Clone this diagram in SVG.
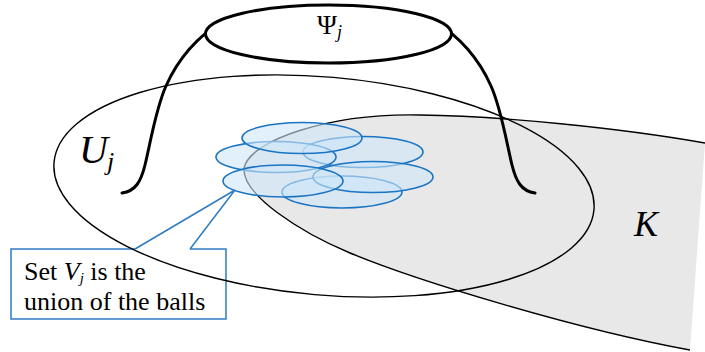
<svg xmlns="http://www.w3.org/2000/svg" width="705" height="352" viewBox="0 0 705 352">
<style>
.thin{fill:none;stroke:#000;stroke-width:1.4}
.thick{fill:none;stroke:#000;stroke-width:3;stroke-linecap:round}
.ball{fill:#cde6f8;fill-opacity:0.6;stroke:#1a74c4;stroke-width:1.6}
.call{fill:none;stroke:#2e7bc0;stroke-width:1.5}
.it{font-style:italic}
</style>
<rect width="705" height="352" fill="#fff"/>
<g font-family="Liberation Serif, Tinos, Noto Serif, DejaVu Serif, FreeSerif, serif" fill="#000">
<g id="K">
<path d="M705,143 C620,128 500,116 420,115 C330,113 250,140 244,168 C242,195 300,232 350,253 C420,282 580,330 690,350 Z" fill="#e8e8e8"/>
<path class="thin" d="M705,143 C620,128 500,116 420,115 C330,113 250,140 244,168 C242,195 300,232 350,253 C420,282 580,330 690,350"/>
<text class="it" x="634" y="236" font-size="36">K</text>
</g>
<g id="callout">
<path class="call" d="M135,249 L11,249 L11,319 L226,319 L226,249 L190,249" fill="#fff"/>
<text x="24" y="280" font-size="26">Set <tspan class="it">V</tspan><tspan class="it" font-size="15" dy="3">j</tspan><tspan dy="-3"> is the</tspan></text>
<text x="24" y="310" font-size="26">union of the balls</text>
</g>
<g id="U">
<ellipse class="thin" cx="324" cy="186" rx="271" ry="109" transform="rotate(5 324 186)"/>
<text class="it" x="79" y="163" font-size="40">U</text>
<text class="it" x="107" y="170" font-size="26">j</text>
</g>
<g id="Psi">
<path class="thick" d="M122,193 C136,191 141,181 145,165 C151,140 156,108 166,86 C177,61 195,38 224,20"/>
<path class="thick" d="M535,193 C521,191 516,181 512,165 C506,140 501,108 491,86 C480,61 462,38 433,20"/>
<ellipse cx="328.5" cy="34" rx="123" ry="29" fill="#fff" stroke="#000" stroke-width="3"/>
<text x="317" y="34" font-size="27">Ψ<tspan class="it" font-size="18" dy="4">j</tspan></text>
</g>
<g id="balls">
<ellipse class="ball" cx="342" cy="192" rx="60" ry="16"/>
<ellipse class="ball" cx="363" cy="152" rx="60" ry="15.5"/>
<ellipse class="ball" cx="373" cy="177" rx="60" ry="15.5"/>
<ellipse class="ball" cx="276" cy="157" rx="60" ry="15.5"/>
<ellipse class="ball" cx="283" cy="181" rx="60" ry="16"/>
<ellipse class="ball" cx="302" cy="138" rx="60" ry="15.5"/>
</g>
<g id="connectors">
<path class="call" d="M135,249 L235,190 L190,249"/>
</g>
</g>
</svg>
